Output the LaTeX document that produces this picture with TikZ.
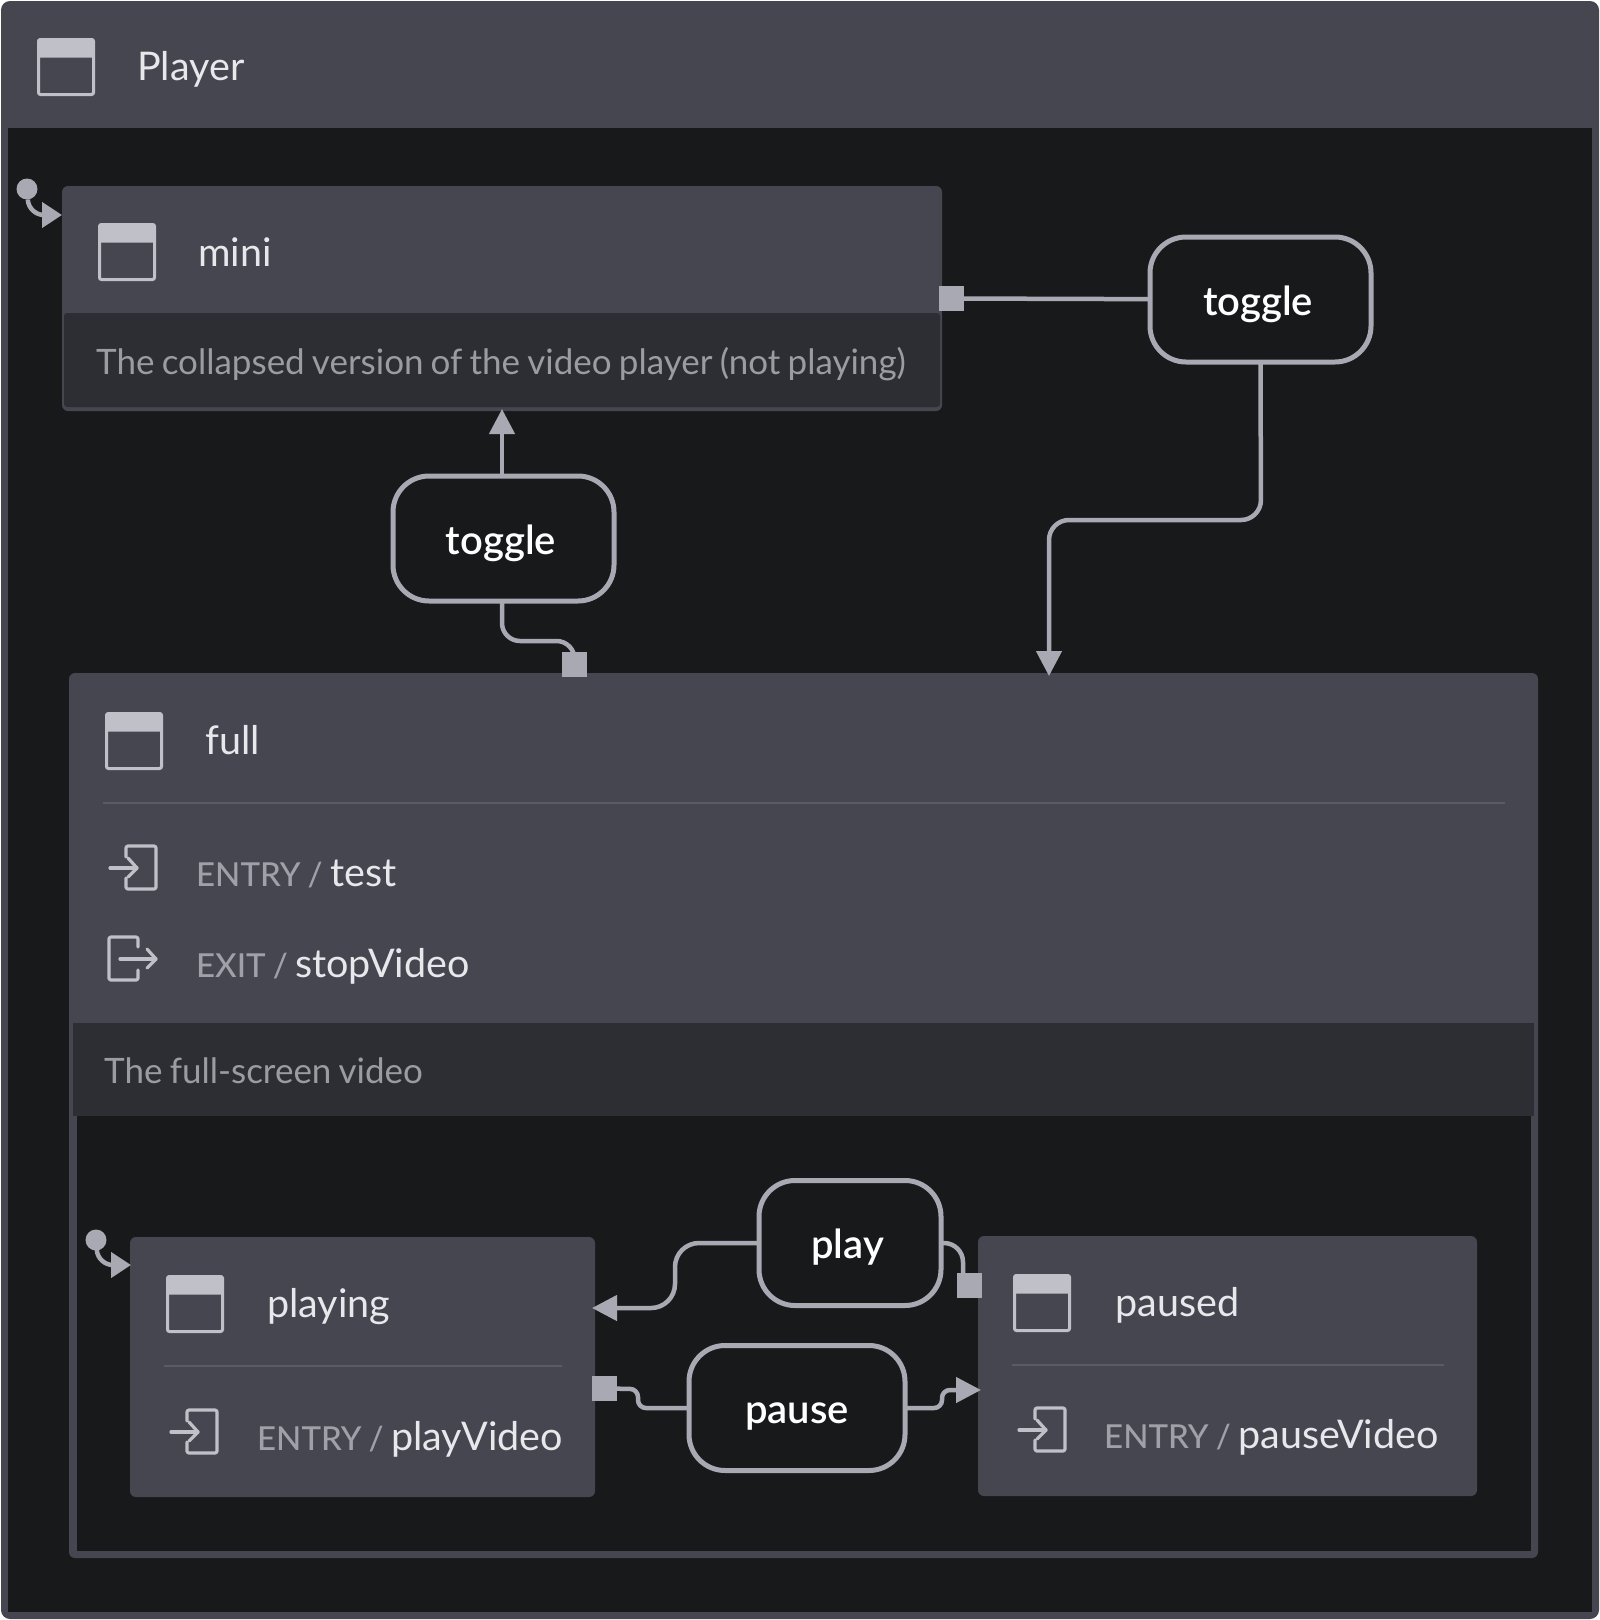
\documentclass[tikz,border=0pt]{standalone}
\usepackage{fontspec}
\setmainfont{Lato}[WordSpace=0.8]
\newfontfamily\medfont{Lato Medium}
\newfontfamily\semifont{Lato Semibold}
\usetikzlibrary{arrows.meta}
\definecolor{panelc}{HTML}{45464F}
\definecolor{bandc}{HTML}{2D2E33}
\definecolor{darkc}{HTML}{18191B}
\definecolor{linec}{HTML}{A9A9B4}
\definecolor{iconc}{HTML}{C0C0C8}
\definecolor{titlec}{HTML}{E8E8EC}
\definecolor{greyc}{HTML}{A0A0A8}
\definecolor{descc}{HTML}{9B9BA4}
\definecolor{rulec}{HTML}{5A5B64}
\newcommand{\bigtxt}{\fontsize{39.5}{44}\selectfont}
\newcommand{\eventtxt}{\fontsize{40}{44}\semifont\selectfont}
\newcommand{\valtxt}{\fontsize{39.5}{44}\selectfont}
\newcommand{\smtxt}{\fontsize{35}{40}\selectfont}
\newcommand{\actline}[2]{{\color{greyc}\fontsize{33}{40}\medfont\selectfont #1\hspace{7pt}/\hspace{7.5pt}}{\valtxt #2}}
\tikzset{
  panel/.style={draw=none,fill=panelc,rounded corners=6,inner sep=0,outer sep=0},
  band/.style={draw=none,fill=bandc,inner sep=0,outer sep=0},
  hole/.style={draw=none,fill=darkc,inner sep=0,outer sep=0},
  eventbox/.style={draw=linec,line width=5,fill=darkc,rounded corners=36,inner sep=0,outer sep=0,
    text=white,font=\eventtxt,text height=29,text depth=0,align=center},
  srcsq/.style={fill=linec,draw=none,minimum size=25,inner sep=0,outer sep=0},
  inidot/.style={fill=linec,draw=none,circle,minimum size=21,inner sep=0,outer sep=0},
  conn/.style={draw=linec,line width=4.5},
  arrowed/.style={conn,-{Triangle[length=25,width=25]}},
  iniarrow/.style={conn,-{Triangle[length=20,width=25]}},
  titletxt/.style={anchor=base west,inner sep=0,text=titlec,font=\bigtxt},
  desctxt/.style={anchor=base west,inner sep=0,text=descc,font=\smtxt},
  acttxt/.style={anchor=base west,inner sep=0,text=titlec},
  iconline/.style={draw=iconc,line width=3.2,line join=round,line cap=round},
  winicon/.pic={
    \draw[iconc,line width=3,rounded corners=2] (1,1) rectangle (56,56);
    \fill[iconc,rounded corners=2] (0,0) rectangle (57,19);
  },
  entryicon/.pic={
    \draw[iconline,rounded corners=2] (16,11) -- (16,0) -- (46,0) -- (46,43) -- (16,43) -- (16,32);
    \draw[iconline] (0,22) -- (27,22);
    \draw[iconline] (18,12) -- (27,22) -- (18,31);
  },
  exiticon/.pic={
    \draw[iconline,rounded corners=2] (29,10) -- (29,0) -- (0,0) -- (0,43) -- (29,43) -- (29,33);
    \draw[iconline] (11,22) -- (47,22);
    \draw[iconline] (38,12) -- (47,22) -- (38,31);
  }
}
\begin{document}
\begin{tikzpicture}[x=1pt,y=-1pt]
\useasboundingbox (0,0) rectangle (1600,1620);
\fill[white] (0,0) rectangle (1600,1620);
% outer Player
\node[panel,rounded corners=9,minimum width=1598,minimum height=1618] (player) at (800,810) {};
\node[hole,minimum width=1584,minimum height=1484] (playerbody) at (800,870) {};
\pic at (37.5,38.5) {winicon};
\node[titletxt] (playertitle) at (137,80) {Player};
% mini
\node[panel,minimum width=880,minimum height=225] (mini) at (502,298.5) {};
\node[band,minimum width=876,minimum height=94,rounded corners=3] (minibody) at (502,360) {};
\pic at (98.5,223.5) {winicon};
\node[titletxt] (minititle) at (198,266) {mini};
\node[desctxt] (minidesc) at (96,374) {The collapsed version of the video player (not playing)};
% full
\node[panel,minimum width=1469,minimum height=885] (full) at (803.5,1115.5) {};
\node[band,minimum width=1461,minimum height=93] (fullband) at (803.5,1069.5) {};
\node[hole,minimum width=1454,minimum height=435] (fullbody) at (804,1333.5) {};
\pic at (105.5,712.5) {winicon};
\node[titletxt] (fulltitle) at (205,754) {full};
\draw[rulec,line width=2] (103,803) -- (1505,803);
\pic at (110,846) {entryicon};
\node[acttxt] (fullentry) at (196,886) {\actline{ENTRY}{test}};
\pic at (109,937) {exiticon};
\node[acttxt] (fullexit) at (196,977) {\actline{EXIT}{stopVideo}};
\node[desctxt] (fulldesc) at (104,1083) {The full-screen video};
% playing
\node[panel,minimum width=465,minimum height=260] (playing) at (362.5,1367) {};
\pic at (166.5,1275.5) {winicon};
\node[titletxt] (playingtitle) at (267,1317) {playing};
\draw[rulec,line width=2] (164,1366) -- (562,1366);
\pic at (171,1410) {entryicon};
\node[acttxt] (playingentry) at (257,1450) {\actline{ENTRY}{playVideo}};
% paused
\node[panel,minimum width=499,minimum height=260] (paused) at (1227.5,1366) {};
\pic at (1013.5,1274.5) {winicon};
\node[titletxt] (pausedtitle) at (1115,1316) {paused};
\draw[rulec,line width=2] (1012,1365) -- (1444,1365);
\pic at (1019,1408) {entryicon};
\node[acttxt] (pausedentry) at (1104,1448) {\actline{ENTRY}{pauseVideo}};
% events
\node[eventbox,minimum width=221,minimum height=125,text height=31] (toggleA) at (1260.5,299.5) {\hspace*{-5pt}toggle};
\node[eventbox,minimum width=221,minimum height=125,text height=31] (toggleB) at (503.5,538.5) {\hspace*{-5pt}toggle};
\node[eventbox,minimum width=182,minimum height=125,text height=31] (play) at (850,1243) {\hspace*{-5pt}play};
\node[eventbox,minimum width=216,minimum height=125,text height=31] (pause) at (797,1408) {pause};
% source squares
\node[srcsq] (sqA) at (951,298.5) {};
\node[srcsq] (sqB) at (574.5,664.5) {};
\node[srcsq] (sqC) at (969,1285.5) {};
\node[srcsq] (sqD) at (604.5,1388.5) {};
% targets
\coordinate (fullIn) at (1049,676);
\coordinate (miniIn) at (502,409);
\coordinate (playingIn) at (592,1308);
\coordinate (pausedIn) at (981,1390);
\coordinate (miniInit) at (62,215);
\coordinate (playingInit) at (131,1265);
% initial dots
\node[inidot] (dotA) at (27,189) {};
\node[inidot] (dotB) at (96,1240) {};
% connectors
\draw[conn] (sqA) -- (toggleA);
\draw[arrowed,rounded corners=20] (toggleA.south) -- (1261,520) -- (1049,520) -- (fullIn);
\draw[arrowed] (toggleB.north -| miniIn) -- (miniIn);
\draw[conn,rounded corners=18] (toggleB.south -| 502,0) -- (502,641) -- (574.5,641) -- (sqB);
\draw[arrowed,rounded corners=24] (play.west |- 0,1243) -- (675,1243) -- (675,1308) -- (playingIn);
\draw[conn,rounded corners=19] (play.east |- 0,1243) -- (963,1243) -- (963,1280);
\draw[conn,rounded corners=8] (sqD) -- (638,1389) -- (638,1408) -- (pause.west);
\draw[arrowed,rounded corners=8] (pause.east) -- (942,1408) -- (942,1390) -- (pausedIn);
\draw[iniarrow,rounded corners=15] (dotA) -- (29,215) -- (miniInit);
\draw[iniarrow,rounded corners=15] (dotB) -- (98,1265) -- (playingInit);
\end{tikzpicture}
\end{document}
